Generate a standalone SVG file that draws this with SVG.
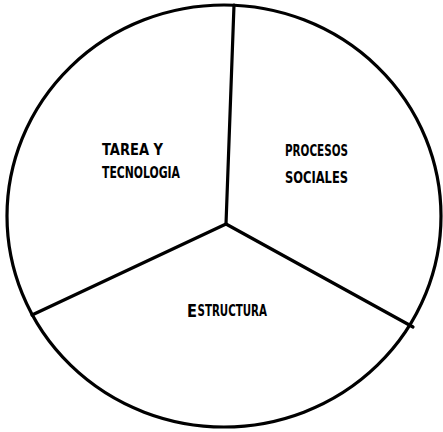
<svg xmlns="http://www.w3.org/2000/svg" width="443" height="432" viewBox="0 0 443 432">
<style>
.ln{fill:none;stroke:#000;stroke-width:3.2;stroke-linecap:round}
.t{font-family:"DejaVu Sans Condensed","DejaVu Sans",sans-serif;font-weight:bold;font-size:15px;fill:#000}
</style>
<rect width="443" height="432" fill="#fff"/>
<g id="connectors">
<ellipse class="ln" cx="224" cy="216" rx="217" ry="211"/>
<path class="ln" d="M226 224 L234 5"/>
<path class="ln" d="M226 224 L32 315"/>
<path class="ln" d="M226 224 L413 327"/>
</g>
<g id="tarea"><text class="t" x="102" y="155" textLength="61" lengthAdjust="spacingAndGlyphs">TAREA Y</text>
<text class="t" x="102" y="178" textLength="78" lengthAdjust="spacingAndGlyphs">TECNOLOGIA</text></g>
<g id="procesos"><text class="t" x="285" y="156" textLength="63" lengthAdjust="spacingAndGlyphs">PROCESOS</text>
<text class="t" x="285" y="183" textLength="63" lengthAdjust="spacingAndGlyphs">SOCIALES</text></g>
<g id="estructura"><text class="t" x="187" y="317" style="font-size:18px" textLength="10" lengthAdjust="spacingAndGlyphs">E</text><text class="t" x="197.5" y="316" textLength="69.5" lengthAdjust="spacingAndGlyphs">STRUCTURA</text></g>
</svg>
